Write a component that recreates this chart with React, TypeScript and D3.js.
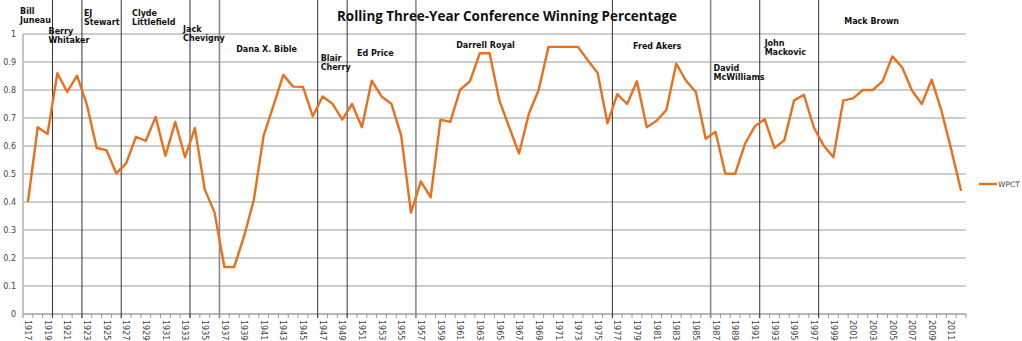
import React from "react";
import * as d3 from "d3";

const years: number[] = d3.range(1917, 2013);
const wpct: number[] = [
  0.40, 0.667, 0.643, 0.86, 0.793, 0.851, 0.748, 0.593, 0.585, 0.502,
  0.538, 0.633, 0.618, 0.704, 0.565, 0.686, 0.56, 0.664, 0.445, 0.363,
  0.168, 0.168, 0.277, 0.408, 0.637, 0.744, 0.854, 0.812, 0.811, 0.706,
  0.777, 0.751, 0.694, 0.75, 0.667, 0.833, 0.777, 0.751, 0.637, 0.362,
  0.474, 0.417, 0.694, 0.686, 0.801, 0.831, 0.931, 0.931, 0.762, 0.667,
  0.573, 0.715, 0.801, 0.954, 0.954, 0.954, 0.954, 0.906, 0.861, 0.681,
  0.785, 0.75, 0.831, 0.667, 0.69, 0.729, 0.894, 0.833, 0.793, 0.626,
  0.651, 0.501, 0.501, 0.608, 0.67, 0.696, 0.593, 0.62, 0.763, 0.783,
  0.667, 0.602, 0.56, 0.762, 0.77, 0.8, 0.8, 0.831, 0.92, 0.881,
  0.798, 0.75, 0.837, 0.726, 0.587, 0.44,
];
const yTicks: number[] = [0, 0.1, 0.2, 0.3, 0.4, 0.5, 0.6, 0.7, 0.8, 0.9, 1];

// Coaching changes: first year of each tenure (line drawn at band start)
const coachStartYears: number[] = [1920, 1923, 1927, 1934, 1937, 1947, 1950, 1957, 1977, 1987, 1992, 1998];
const coachLineGrey: boolean[] = [false, false, false, false, true, false, false, true, false, true, false, false];

const coachNames: string[][] = [
  ["Bill", "Juneau"],
  ["Berry", "Whitaker"],
  ["EJ", "Stewart"],
  ["Clyde", "Littlefield"],
  ["Jack", "Chevigny"],
  ["Dana X. Bible"],
  ["Blair", "Cherry"],
  ["Ed Price"],
  ["Darrell Royal"],
  ["Fred Akers"],
  ["David", "McWilliams"],
  ["John", "Mackovic"],
  ["Mack Brown"],
];
const coachLabelYear: number[] = [1916.7, 1919.6, 1923.2, 1928.1, 1933.3, 1938.7, 1947.3, 1951.0, 1961.1, 1979.1, 1987.3, 1992.5, 2000.6];
const coachLabelY: number[] = [14, 34, 16, 16, 32, 52, 61, 56, 48, 49, 71, 46, 24];

const title = "Rolling Three-Year Conference Winning Percentage";
const seriesName = "WPCT";

const W = 1022;
const H = 341;
const left = 23;
const right = 966;
const top = 34;
const bottom = 314;

export default function App() {
  const x = d3.scaleBand<number>().domain(years).range([left, right]).paddingInner(0).paddingOuter(0);
  const y = d3.scaleLinear().domain([0, 1]).range([bottom, top]);
  const bw = x.bandwidth();
  const cx = (yr: number) => (x(yr) as number) + bw / 2;
  const fx = (yr: number) => left + (yr - 1917) * bw;

  const line = d3
    .line<number>()
    .x((_, i) => cx(years[i]))
    .y((d) => y(d));

  const orange = "#E8701E";
  const font = "'DejaVu Sans', Verdana, sans-serif";

  return (
    <svg width={W} height={H} style={{ position: "absolute", left: 0, top: 0, background: "#fff" }}>
      <rect x={0} y={0} width={W} height={H} fill="#fff" />
      {/* gridlines */}
      {yTicks.map((t) => (
        <line key={"g" + t} x1={left} x2={right} y1={y(t)} y2={y(t)} stroke="#9a9a9a" strokeWidth={1} />
      ))}
      {/* axes */}
      <line x1={left} x2={left} y1={top} y2={bottom + 4} stroke="#c4c4c4" strokeWidth={2} />
      <line x1={left} x2={right} y1={bottom} y2={bottom} stroke="#b0b0b0" strokeWidth={1.5} />
      {/* x ticks */}
      {years.map((yr) => (
        <line key={"t" + yr} x1={fx(yr) + bw} x2={fx(yr) + bw} y1={bottom} y2={bottom + 4} stroke="#999" strokeWidth={1} />
      ))}
      {/* y labels */}
      {yTicks.map((t) => (
        <text key={"yl" + t} x={16} y={y(t)} dy="0.35em" textAnchor="end" fontFamily={font} fontSize={8} fill="#444">
          {d3.format("~g")(t)}
        </text>
      ))}
      {/* x labels */}
      {years.filter((_, i) => i % 2 === 0).map((yr) => (
        <text
          key={"xl" + yr}
          transform={`translate(${cx(yr)},${bottom + 6}) rotate(90)`}
          dy="0.35em"
          fontFamily={font}
          fontSize={8}
          fill="#444"
        >
          {yr}
        </text>
      ))}
      {/* coach lines */}
      {coachStartYears.map((yr, i) => (
        <line
          key={"c" + yr}
          x1={fx(yr)}
          x2={fx(yr)}
          y1={0}
          y2={bottom + 4}
          stroke={coachLineGrey[i] ? "#8a8a8a" : "#333"}
          strokeWidth={coachLineGrey[i] ? 1.6 : 1}
        />
      ))}
      {/* series */}
      <path d={line(wpct) || ""} fill="none" stroke={orange} strokeWidth={2.4} strokeLinejoin="round" />
      {/* coach labels */}
      {coachNames.map((lines, i) => (
        <text key={"n" + i} x={fx(coachLabelYear[i])} y={coachLabelY[i]} fontFamily={font} fontSize={8} fontWeight="bold" fill="#111">
          {lines.map((l, j) => (
            <tspan key={j} x={fx(coachLabelYear[i])} dy={j === 0 ? 0 : 8.5}>
              {l}
            </tspan>
          ))}
        </text>
      ))}
      {/* title */}
      <text
        x={507}
        y={21}
        textAnchor="middle"
        fontFamily="'Open Sans', 'Liberation Sans', sans-serif"
        fontSize={14}
        fontWeight="bold"
        fill="#111"
        textLength={340}
        lengthAdjust="spacingAndGlyphs"
      >
        {title}
      </text>
      {/* legend */}
      <line x1={979} x2={997} y1={184} y2={184} stroke={orange} strokeWidth={2.4} />
      <text x={998} y={184} dy="0.35em" fontFamily={font} fontSize={7.5} fill="#444">
        {seriesName}
      </text>
    </svg>
  );
}
